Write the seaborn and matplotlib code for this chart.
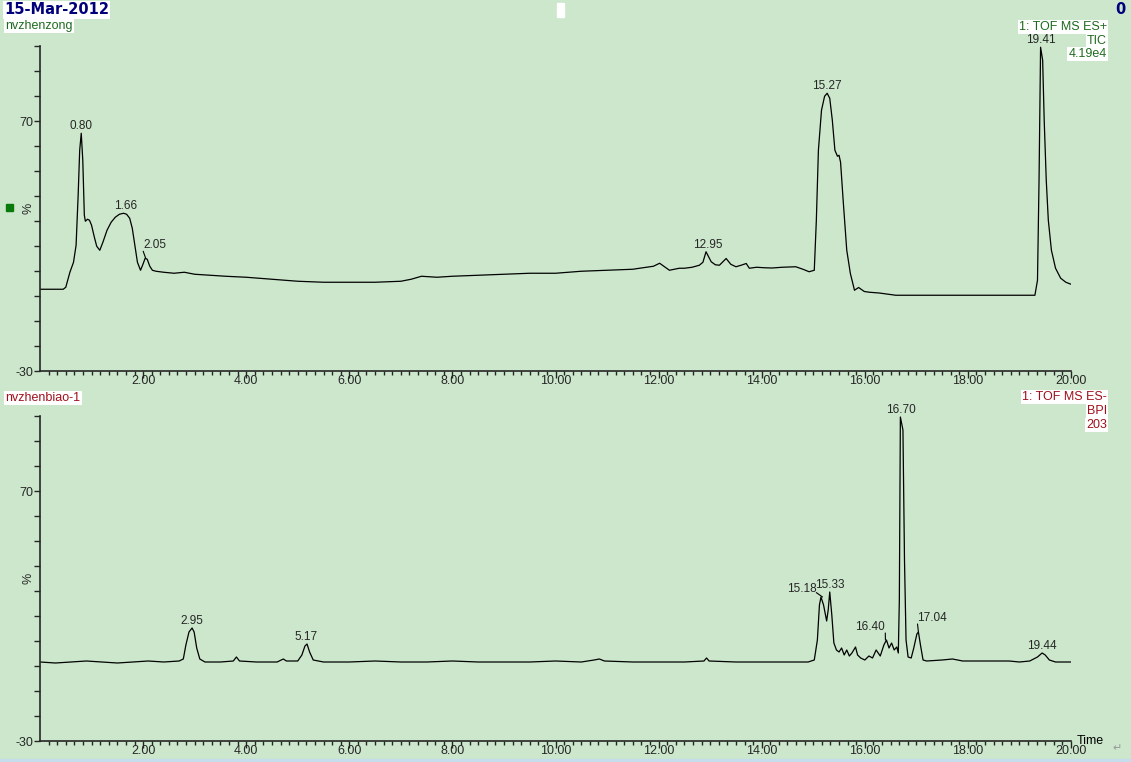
import numpy as np
import pandas as pd
import matplotlib
matplotlib.use("Agg")
import matplotlib.pyplot as plt
from matplotlib.ticker import FixedLocator
import seaborn as sns

# ---- data (time in min, intensity in %) ----
tic_time = [0.00, 0.45, 0.50, 0.58, 0.65, 0.70, 0.74, 0.77, 0.80, 0.83, 0.86, 0.88,
            0.92, 0.96, 1.00, 1.05, 1.10, 1.16, 1.22, 1.30, 1.38, 1.46, 1.54, 1.62,
            1.68, 1.74, 1.79, 1.84, 1.89, 1.95, 1.99, 2.04, 2.08, 2.13, 2.18, 2.25,
            2.40, 2.60, 2.80, 3.00, 3.30, 3.60, 4.00, 4.50, 5.00, 5.50, 6.00, 6.50,
            7.00, 7.20, 7.40, 7.70, 8.00, 8.50, 9.00, 9.50, 10.00, 10.50, 11.00, 11.50,
            11.63, 11.90, 12.02, 12.21, 12.40, 12.50, 12.65, 12.79, 12.86, 12.92, 13.02,
            13.10, 13.18, 13.31, 13.40, 13.50, 13.60, 13.70, 13.76, 13.90, 14.05, 14.20,
            14.40, 14.66, 14.80, 14.92, 15.02, 15.06, 15.10, 15.16, 15.22, 15.27, 15.32,
            15.37, 15.42, 15.47, 15.50, 15.53, 15.58, 15.65, 15.72, 15.80, 15.88, 15.99,
            16.09, 16.28, 16.60, 17.50, 18.50, 19.30, 19.35, 19.38, 19.41, 19.45, 19.48,
            19.52, 19.56, 19.62, 19.70, 19.80, 19.90, 20.00]
tic_int = [2.7, 2.7, 3.5, 9.5, 13.5, 20.3, 40.3, 58.3, 65.1, 54.3, 32.3, 29.9,
           30.7, 30.3, 28.3, 23.9, 19.9, 18.3, 21.5, 26.3, 29.5, 31.5, 32.7, 33.1,
           32.7, 31.1, 27.1, 20.3, 13.5, 10.3, 12.3, 15.1, 14.7, 11.9, 10.3, 9.9,
           9.5, 9.1, 9.5, 8.7, 8.3, 7.9, 7.5, 6.7, 5.9, 5.5, 5.5, 5.5,
           5.9, 6.7, 7.9, 7.5, 7.9, 8.3, 8.7, 9.1, 9.1, 9.9, 10.3, 10.7,
           11.1, 11.9, 13.1, 10.3, 11.1, 11.1, 11.5, 12.3, 13.5, 17.7, 13.7,
           12.5, 12.3, 15.0, 12.7, 11.7, 12.3, 13.0, 11.1, 11.5, 11.3, 11.2,
           11.5, 11.7, 10.7, 9.7, 10.3, 30.3, 58.3, 74.3, 79.9, 81.1, 79.1,
           70.3, 58.3, 55.9, 56.3, 53.5, 38.3, 18.3, 9.0, 2.3, 3.4, 1.8,
           1.5, 1.2, 0.3, 0.3, 0.3, 0.3, 6.3, 46.3, 99.5, 94.3, 70.3,
           46.3, 30.3, 18.3, 11.1, 7.1, 5.5, 4.7]

bpi_time = [0.00, 0.30, 0.60, 0.90, 1.20, 1.50, 1.80, 2.10, 2.40, 2.70, 2.78, 2.83,
            2.89, 2.95, 2.99, 3.04, 3.10, 3.20, 3.50, 3.75, 3.81, 3.87, 4.20, 4.60,
            4.72, 4.78, 5.00, 5.08, 5.14, 5.18, 5.23, 5.30, 5.50, 6.00, 6.50, 7.00,
            7.50, 8.00, 8.50, 9.00, 9.50, 10.00, 10.50, 10.75, 10.85, 10.95, 11.50, 12.00,
            12.50, 12.88, 12.93, 12.98, 13.50, 14.00, 14.50, 14.90, 15.02, 15.08, 15.12,
            15.15, 15.20, 15.26, 15.29, 15.32, 15.36, 15.40, 15.45, 15.50, 15.55, 15.60,
            15.65, 15.70, 15.75, 15.82, 15.86, 15.92, 16.00, 16.08, 16.15, 16.22, 16.30,
            16.37, 16.42, 16.47, 16.52, 16.57, 16.62, 16.65, 16.67, 16.69, 16.74, 16.77,
            16.80, 16.84, 16.90, 16.95, 17.01, 17.04, 17.08, 17.13, 17.20, 17.50, 17.70,
            17.90, 18.20, 18.50, 18.80, 19.00, 19.20, 19.35, 19.44, 19.50, 19.58, 19.70,
            20.00]
bpi_int = [1.6, 1.2, 1.6, 2.0, 1.6, 1.2, 1.6, 2.0, 1.6, 2.0, 2.8, 8.4,
           13.6, 15.2, 13.6, 7.2, 2.8, 1.6, 1.6, 2.0, 3.6, 2.0, 1.6, 1.6,
           2.8, 2.0, 2.0, 4.4, 8.0, 8.8, 5.6, 2.4, 1.6, 1.6, 2.0, 1.6,
           1.6, 2.0, 1.6, 1.6, 1.6, 2.0, 1.6, 2.4, 2.8, 2.0, 1.6, 1.6,
           1.6, 2.0, 3.2, 2.0, 1.6, 1.6, 1.6, 1.6, 2.4, 10.4, 24.4,
           27.6, 24.4, 18.0, 22.4, 29.6, 20.4, 9.2, 6.4, 5.6, 7.2, 4.4,
           6.4, 4.0, 5.2, 7.6, 4.4, 3.2, 2.4, 4.0, 3.2, 6.4, 4.0,
           8.4, 10.4, 7.2, 9.2, 6.4, 7.6, 5.2, 26.4, 99.6, 94.4, 42.4,
           10.4, 3.6, 3.2, 7.2, 12.8, 13.6, 8.4, 2.4, 2.0, 2.4, 2.8,
           2.0, 2.0, 2.0, 2.0, 1.6, 2.0, 3.6, 5.2, 4.4, 2.4, 1.6,
           1.6]

tic_peaks = [0.80, 1.66, 2.05, 12.95, 15.27, 19.41]
bpi_peaks = [2.95, 5.17, 15.18, 15.33, 16.40, 16.70, 17.04, 19.44]

# label offsets in pixels (dx, dy, leader anchor on text); listed ones get a leader line
tic_offsets = {2.05: (9, 7, (0, 0))}
bpi_offsets = {15.18: (-21, 2, (1, 0.2)), 16.40: (-15, 7, (1, 0)),
               17.04: (14, 8, (0, 0))}

BG = "#cce7cc"
GREEN = "#1e6b1e"
RED = "#a0101c"
NAVY = "#00007a"

sns.set_style("ticks", {"axes.facecolor": BG, "figure.facecolor": BG})
plt.rcParams["font.family"] = ["Liberation Sans", "DejaVu Sans"]
plt.rcParams["font.size"] = 8.5

fig = plt.figure(figsize=(11.31, 7.62), dpi=100)
fig.patch.set_facecolor(BG)
ax1 = fig.add_axes([40 / 1131, 1 - 371 / 762, 1031 / 1131, 325 / 762])
ax2 = fig.add_axes([40 / 1131, 1 - 741 / 762, 1031 / 1131, 325 / 762])

tic = pd.DataFrame({"time": tic_time, "pct": tic_int})
bpi = pd.DataFrame({"time": bpi_time, "pct": bpi_int})


def style_axis(ax):
    ax.set_facecolor(BG)
    ax.set_xlim(0, 20)
    ax.set_ylim(-30, 100)
    for s in ["top", "right"]:
        ax.spines[s].set_visible(False)
    ax.spines["left"].set_linewidth(1.2)
    ax.spines["bottom"].set_linewidth(1.2)
    ax.set_xticks(np.arange(2, 20.01, 2))
    ax.set_xticklabels([f"{v:.2f}" for v in np.arange(2, 20.01, 2)])
    ax.xaxis.set_minor_locator(FixedLocator(np.arange(1 / 6, 20, 1 / 6)))
    ax.tick_params(axis="x", which="major", length=5, width=1, pad=-2, labelsize=9)
    ax.tick_params(axis="x", which="minor", length=3, width=1)
    ax.set_yticks(np.arange(-30, 101, 10))
    ax.set_yticklabels(["70" if v == 70 else ("-30" if v == -30 else "")
                        for v in np.arange(-30, 101, 10)])
    ax.tick_params(axis="y", length=4, width=1, pad=1, labelsize=9)
    ax.set_xlabel("")
    ax.set_ylabel("")
    ax.text(-0.005, 0.5, "%", transform=ax.transAxes, rotation=90,
            ha="right", va="center", fontsize=9)


def label_peaks(ax, df, peaks, offsets):
    for p in peaks:
        near = df[(df["time"] > p - 0.06) & (df["time"] < p + 0.06)]
        y = near["pct"].max()
        line = None
        if p in offsets:
            dx, dy, rel = offsets[p]
            line = dict(arrowstyle="-", lw=0.8, color="black", shrinkA=0,
                        shrinkB=0, relpos=rel, patchA=None)
        else:
            dx, dy = 0, 1
        ax.annotate(f"{p:.2f}", xy=(p, y), xytext=(dx, dy),
                    textcoords="offset pixels", fontsize=8.5,
                    ha="center", va="bottom", annotation_clip=False,
                    arrowprops=line)


sns.lineplot(data=tic, x="time", y="pct", ax=ax1, color="black",
             linewidth=0.9, estimator=None, sort=False)
sns.lineplot(data=bpi, x="time", y="pct", ax=ax2, color="black",
             linewidth=0.9, estimator=None, sort=False)
for ax in (ax1, ax2):
    style_axis(ax)
label_peaks(ax1, tic, tic_peaks, tic_offsets)
label_peaks(ax2, bpi, bpi_peaks, bpi_offsets)

box = dict(facecolor="white", edgecolor="none", pad=1)


def ftext(px, py, s, **kw):
    fig.text(px / 1131, 1 - py / 762, s, **kw)


ftext(4, 10, "15-Mar-2012", color=NAVY, fontsize=10.5, fontweight="bold",
      va="center", ha="left", bbox=box, family=["DejaVu Sans"])
ftext(5, 26, "nvzhenzong", color=GREEN, fontsize=9, va="center", ha="left", bbox=box)
ftext(1126, 10, "0", color=NAVY, fontsize=10.5, fontweight="bold", va="center",
      ha="right", family=["DejaVu Sans"])
ftext(1107, 27, "1: TOF MS ES+", color=GREEN, fontsize=9, va="center", ha="right", bbox=box)
ftext(1107, 41, "TIC", color=GREEN, fontsize=9, va="center", ha="right", bbox=box)
ftext(1107, 54, "4.19e4", color=GREEN, fontsize=9, va="center", ha="right", bbox=box)
ftext(5, 398, "nvzhenbiao-1", color=RED, fontsize=9, va="center", ha="left", bbox=box)
ftext(1107, 397, "1: TOF MS ES-", color=RED, fontsize=9, va="center", ha="right", bbox=box)
ftext(1107, 411, "BPI", color=RED, fontsize=9, va="center", ha="right", bbox=box)
ftext(1107, 425, "203", color=RED, fontsize=9, va="center", ha="right", bbox=box)
ftext(1077, 741, "Time", color="black", fontsize=9, va="center", ha="left")
ftext(1112, 748, "\u21b5", color="#9a9a9a", fontsize=8, va="center", ha="left",
      family=["DejaVu Sans"])

# small marker square, header white block and bottom strip
fig.patches.append(plt.Rectangle((6 / 1131, 1 - 211 / 762), 7 / 1131, 7 / 762,
                                 transform=fig.transFigure, color="#0a7a0a"))
fig.patches.append(plt.Rectangle((557 / 1131, 1 - 17 / 762), 7 / 1131, 14 / 762,
                                 transform=fig.transFigure, color="white"))
fig.patches.append(plt.Rectangle((0, 0), 1, 3 / 762,
                                 transform=fig.transFigure, color="#c4dcec"))

fig.savefig("out.png", dpi=100, facecolor=BG)
